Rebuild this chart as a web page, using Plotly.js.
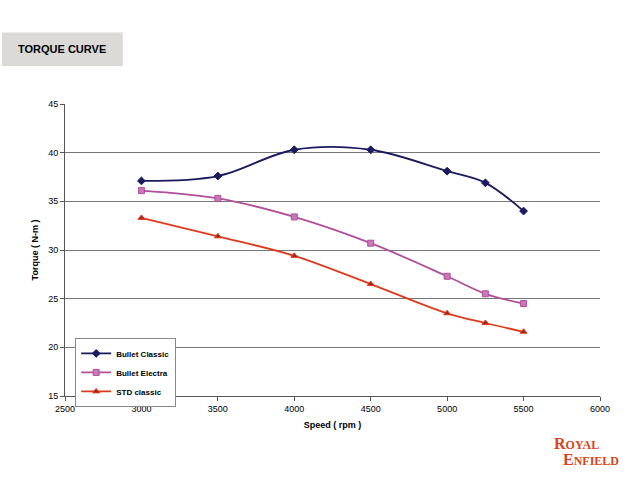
<!DOCTYPE html>
<html><head><script src="https://cdn.plot.ly/plotly-3.0.0.min.js"></script></head>
<body style="margin:0"><div id="c" style="width:640px;height:479px"></div>
<script>
const speed=[3000,3500,4000,4500,5000,5250,5500];
const bulletClassic=[37.1,37.6,40.3,40.3,38.1,36.9,34.0];
const bulletElectra=[36.1,35.3,33.4,30.7,27.3,25.5,24.5];
const stdClassic=[33.3,31.4,29.4,26.5,23.5,22.5,21.6];
const names=['Bullet Classic','Bullet Electra','STD classic'];
const F='Liberation Sans, Arial, sans-serif';
function tr(y,name,lc,sym,mc){return {x:speed,y:y,name:name,mode:'lines+markers',line:{shape:'spline',color:lc,width:1.8},marker:{symbol:sym,size:6,color:mc,line:{color:lc,width:1}}};}
Plotly.newPlot('c',[
 tr(bulletClassic,names[0],'#1a1a5e','diamond','#1a1a5e'),
 tr(bulletElectra,names[1],'#b0509a','square','#c878b8'),
 tr(stdClassic,names[2],'#e03a1e','triangle-up','#9a2a1a')
],{
 width:640,height:479,margin:{l:65,r:40,t:104,b:83},
 paper_bgcolor:'#fff',plot_bgcolor:'#fff',font:{family:F,size:9,color:'#000'},
 xaxis:{range:[2500,6000],dtick:500,showgrid:false,zeroline:false,showline:true,linecolor:'#555',ticks:'outside',ticklen:4,tickcolor:'#555',
   title:{text:'<b>Speed ( rpm )</b>',font:{size:9},standoff:8}},
 yaxis:{range:[15,45],dtick:5,showgrid:true,gridcolor:'#777',gridwidth:1,zeroline:false,showline:true,linecolor:'#555',ticks:'outside',ticklen:4,tickcolor:'#555',
   title:{text:'<b>Torque ( N-m )</b>',font:{size:9},standoff:8}},
 showlegend:true,
 legend:{x:0.019,y:0.199,xanchor:'left',yanchor:'top',bgcolor:'#fff',bordercolor:'#888',borderwidth:1,font:{size:8,weight:'bold'},tracegroupgap:6,itemwidth:30},
 shapes:[{type:'rect',xref:'paper',yref:'paper',x0:-0.118,x1:0.108,y0:1.13,y1:1.245,fillcolor:'#dcdad7',line:{width:0},layer:'below'}],
 annotations:[
  {xref:'paper',yref:'paper',x:-0.005,y:1.19,xanchor:'center',yanchor:'middle',text:'<b>TORQUE CURVE</b>',showarrow:false,font:{size:11,color:'#000'}},
  {xref:'paper',yref:'paper',x:0.957,y:-0.161,xanchor:'center',yanchor:'middle',text:'<b>R<span style="font-size:12px">OYAL</span></b>',showarrow:false,font:{family:'Liberation Serif, serif',size:16,color:'#d9441c'}},
  {xref:'paper',yref:'paper',x:1.04,y:-0.219,xanchor:'right',yanchor:'middle',text:'<b>E<span style="font-size:12px">NFIELD</span></b>',showarrow:false,font:{family:'Liberation Serif, serif',size:16,color:'#d9441c'}}
 ]
},{displayModeBar:false});
</script></body></html>
